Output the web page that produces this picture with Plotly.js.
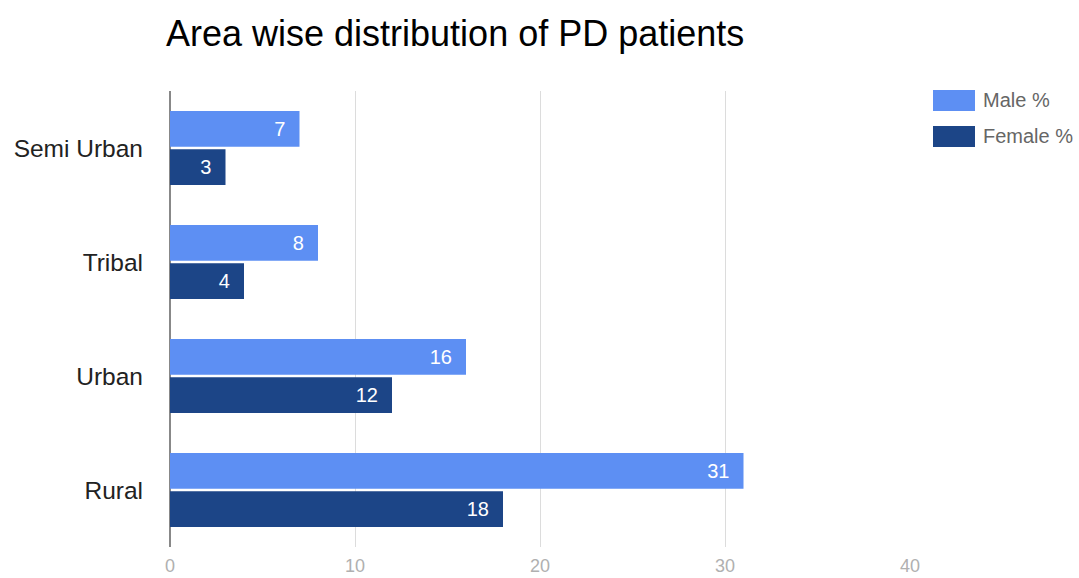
<!DOCTYPE html>
<html>
<head>
<meta charset="utf-8">
<script src="https://cdn.plot.ly/plotly-3.0.1.min.js"></script>
<style>html,body{margin:0;padding:0;background:#fff;}#chart{width:1079px;height:578px;}</style>
</head>
<body>
<div id="chart"></div>
<script>
const categories = ["Semi Urban", "Tribal", "Urban", "Rural"];
const maleValues = [7, 8, 16, 31];
const femaleValues = [3, 4, 12, 18];
const seriesNames = ["Male %", "Female %"];
const seriesColors = ["#5d8ff3", "#1c4587"];
const xTicks = [0, 10, 20, 30, 40];

const traces = [maleValues, femaleValues].map((vals, i) => ({
  type: "bar",
  orientation: "h",
  name: seriesNames[i],
  y: categories,
  x: vals,
  text: vals.map(v => String(v) + "\u00a0\u00a0"),
  textposition: "inside",
  insidetextanchor: "end",
  textfont: {family: "Liberation Sans, Arial, sans-serif", size: 20, color: "#ffffff"},
  marker: {color: seriesColors[i]},
  hoverinfo: "x+name"
}));

const legendX = 933, legendY0 = 90, legendStep = 36;
const shapes = [];
const annotations = [];
seriesNames.forEach((n, i) => {
  const y = legendY0 + i * legendStep;
  shapes.push({type: "rect", xref: "paper", yref: "paper",
    x0: (legendX - 170) / 740, x1: (legendX + 42 - 170) / 740,
    y0: 1 - (y + 21 - 91) / 456, y1: 1 - (y - 91) / 456,
    fillcolor: seriesColors[i], line: {width: 0}});
  annotations.push({xref: "paper", yref: "paper", x: (legendX + 48 - 170) / 740,
    y: 1 - (y + 10 - 91) / 456, text: n, showarrow: false, xanchor: "left", yanchor: "middle",
    font: {family: "Liberation Sans, Arial, sans-serif", size: 20, color: "#666"}});
});

const layout = {
  width: 1079, height: 578,
  margin: {l: 170, r: 169, t: 91, b: 31},
  paper_bgcolor: "#fff", plot_bgcolor: "#fff",
  font: {family: "Liberation Sans, Arial, sans-serif"},
  title: {text: "Area wise distribution of PD patients", x: 166 / 1079, xanchor: "left", y: 1 - 33 / 578, yanchor: "middle",
    font: {family: "Liberation Sans, Arial, sans-serif", size: 36, color: "#000"}},
  showlegend: false,
  barmode: "group",
  bargap: 0.33,
  bargroupgap: 0.06,
  xaxis: {range: [0, 40], tickvals: xTicks, ticktext: xTicks.map(String), showgrid: true, gridcolor: "#dcdcdc",
    zeroline: true, zerolinecolor: "#888", zerolinewidth: 1.5, ticks: "", ticklabelstandoff: 6,
    tickfont: {size: 18, color: "#b0b0b0"}, fixedrange: true},
  yaxis: {categoryorder: "array", categoryarray: categories, autorange: "reversed", showgrid: false, ticks: "",
    ticklabelstandoff: 26, tickfont: {size: 24.5, color: "#222"}, showline: false},
  shapes: shapes,
  annotations: annotations
};

Plotly.newPlot("chart", traces, layout, {displayModeBar: false, staticPlot: true});
</script>
</body>
</html>
